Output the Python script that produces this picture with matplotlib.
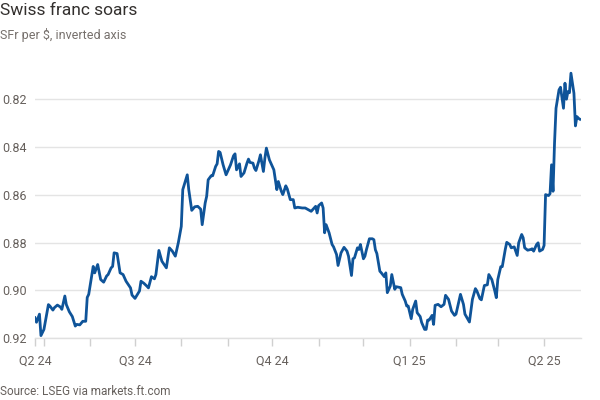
import matplotlib
matplotlib.use("Agg")
import matplotlib.pyplot as plt
import matplotlib.dates as mdates
import pandas as pd

plt.rcParams['font.family'] = ['Roboto', 'DejaVu Sans']

dates = [
    "2024-04-25","2024-04-26","2024-04-28","2024-04-29","2024-05-01","2024-05-04","2024-05-05","2024-05-07",
    "2024-05-08","2024-05-10","2024-05-12","2024-05-13","2024-05-15","2024-05-16","2024-05-18","2024-05-20",
    "2024-05-22","2024-05-23","2024-05-25","2024-05-27","2024-05-29","2024-05-30","2024-05-31","2024-06-03",
    "2024-06-04","2024-06-06","2024-06-08","2024-06-10","2024-06-12","2024-06-13","2024-06-15","2024-06-16",
    "2024-06-17","2024-06-19","2024-06-21","2024-06-23","2024-06-25","2024-06-28","2024-06-29","2024-07-01",
    "2024-07-04","2024-07-05","2024-07-07","2024-07-09","2024-07-10","2024-07-12","2024-07-14","2024-07-15",
    "2024-07-17","2024-07-19","2024-07-22","2024-07-24","2024-07-26","2024-07-28","2024-07-30","2024-08-01",
    "2024-08-02","2024-08-04","2024-08-05","2024-08-06","2024-08-08","2024-08-10","2024-08-12","2024-08-14",
    "2024-08-15","2024-08-17","2024-08-18","2024-08-19","2024-08-21","2024-08-22","2024-08-24","2024-08-25",
    "2024-08-26","2024-08-27","2024-08-29","2024-08-31","2024-09-03","2024-09-05","2024-09-06","2024-09-07",
    "2024-09-09","2024-09-10","2024-09-12","2024-09-14","2024-09-15","2024-09-16","2024-09-18","2024-09-19",
    "2024-09-20","2024-09-22","2024-09-23","2024-09-25","2024-09-26","2024-09-27","2024-09-29","2024-10-02",
    "2024-10-04","2024-10-05","2024-10-07","2024-10-08","2024-10-10","2024-10-11","2024-10-13","2024-10-15",
    "2024-10-16","2024-10-18","2024-10-21","2024-10-23","2024-10-25","2024-10-27","2024-10-30","2024-10-31",
    "2024-11-01","2024-11-03","2024-11-04","2024-11-05","2024-11-06","2024-11-08","2024-11-10","2024-11-11",
    "2024-11-13","2024-11-14","2024-11-16","2024-11-18","2024-11-20","2024-11-21","2024-11-23","2024-11-24",
    "2024-11-25","2024-11-27","2024-11-28","2024-11-29","2024-12-01","2024-12-02","2024-12-03","2024-12-05",
    "2024-12-07","2024-12-08","2024-12-09","2024-12-10","2024-12-12","2024-12-13","2024-12-15","2024-12-16",
    "2024-12-17","2024-12-19","2024-12-20","2024-12-22","2024-12-23","2024-12-26","2024-12-27","2024-12-29",
    "2024-12-30","2024-12-31","2025-01-02","2025-01-03","2025-01-05","2025-01-06","2025-01-08","2025-01-09",
    "2025-01-11","2025-01-12","2025-01-13","2025-01-14","2025-01-16","2025-01-17","2025-01-18","2025-01-20",
    "2025-01-22","2025-01-24","2025-01-25","2025-01-27","2025-01-29","2025-01-31","2025-02-01","2025-02-03",
    "2025-02-04","2025-02-06","2025-02-07","2025-02-09","2025-02-10","2025-02-12","2025-02-14","2025-02-15",
    "2025-02-17","2025-02-18","2025-02-20","2025-02-22","2025-02-23","2025-02-25","2025-02-27","2025-02-28",
    "2025-03-01","2025-03-03","2025-03-04","2025-03-06","2025-03-07","2025-03-09","2025-03-10","2025-03-12",
    "2025-03-14","2025-03-15","2025-03-17","2025-03-18","2025-03-19","2025-03-21","2025-03-23","2025-03-24",
    "2025-03-25","2025-03-27","2025-03-28","2025-03-29","2025-03-31","2025-04-01","2025-04-02","2025-04-04",
    "2025-04-05","2025-04-06","2025-04-07","2025-04-08","2025-04-09","2025-04-11","2025-04-12","2025-04-14",
    "2025-04-15","2025-04-16","2025-04-17","2025-04-18","2025-04-19","2025-04-21","2025-04-22","2025-04-23",
    "2025-04-24","2025-04-25",
]

chf_per_usd = [
    0.9115,0.9134,0.9100,0.9190,0.9164,0.9060,0.9066,0.9083,
    0.9073,0.9062,0.9070,0.9080,0.9024,0.9060,0.9090,0.9110,
    0.9150,0.9143,0.9145,0.9130,0.9130,0.9030,0.9017,0.8900,
    0.8927,0.8892,0.8955,0.8966,0.8940,0.8934,0.8906,0.8900,
    0.8843,0.8846,0.8927,0.8934,0.8962,0.8990,0.9020,0.9034,
    0.9003,0.8962,0.8971,0.8983,0.8990,0.8943,0.8952,0.8934,
    0.8833,0.8878,0.8906,0.8822,0.8836,0.8857,0.8801,0.8732,
    0.8578,0.8537,0.8516,0.8578,0.8665,0.8650,0.8648,0.8660,
    0.8725,0.8634,0.8606,0.8537,0.8520,0.8520,0.8481,0.8470,
    0.8418,0.8422,0.8474,0.8516,0.8474,0.8436,0.8428,0.8495,
    0.8470,0.8523,0.8508,0.8467,0.8450,0.8464,0.8467,0.8488,
    0.8498,0.8457,0.8432,0.8502,0.8446,0.8404,0.8453,0.8495,
    0.8578,0.8544,0.8585,0.8599,0.8562,0.8575,0.8620,0.8620,
    0.8655,0.8652,0.8655,0.8655,0.8662,0.8669,0.8648,0.8676,
    0.8645,0.8634,0.8655,0.8759,0.8725,0.8759,0.8808,0.8818,
    0.8850,0.8896,0.8843,0.8820,0.8836,0.8857,0.8938,0.8868,
    0.8864,0.8822,0.8829,0.8808,0.8868,0.8857,0.8830,0.8784,
    0.8784,0.8788,0.8830,0.8846,0.8920,0.8927,0.8943,0.8927,
    0.9010,0.8982,0.8934,0.8996,0.8985,0.8989,0.9017,0.9045,
    0.9066,0.9066,0.9119,0.9080,0.9045,0.9094,0.9110,0.9135,
    0.9164,0.9164,0.9125,0.9125,0.9105,0.9143,0.9063,0.9059,
    0.9069,0.9059,0.9021,0.9038,0.9087,0.9105,0.9100,0.9045,
    0.9017,0.9059,0.9100,0.9122,0.9133,0.9038,0.8993,0.9003,
    0.9035,0.9040,0.8980,0.8977,0.8934,0.8955,0.9003,0.9031,
    0.8955,0.8901,0.8901,0.8829,0.8799,0.8808,0.8822,0.8818,
    0.8854,0.8801,0.8766,0.8780,0.8822,0.8832,0.8829,0.8826,
    0.8836,0.8808,0.8801,0.8836,0.8829,0.8812,0.8599,0.8603,
    0.8595,0.8474,0.8585,0.8383,0.8237,0.8160,0.8149,0.8237,
    0.8132,0.8199,0.8167,0.8172,0.8090,0.8174,0.8311,0.8272,
    0.8279,0.8283,
]

y_ticks = [0.82, 0.84, 0.86, 0.88, 0.90, 0.92]
y_tick_labels = ["0.82", "0.84", "0.86", "0.88", "0.90", "0.92"]
quarter_dates = ["2024-07-01", "2024-10-01", "2025-01-01", "2025-04-01"]
x_tick_labels = ["Q2 24", "Q3 24", "Q4 24", "Q1 25", "Q2 25"]

title = "Swiss franc soars"
subtitle = "SFr per $, inverted axis"
source = "Source: LSEG via markets.ft.com"

x = pd.to_datetime(dates)

fig = plt.figure(figsize=(6, 4), dpi=100, facecolor="white")
ax = fig.add_axes([0.0583, 0.155, 0.9107, 0.668])
ax.set_facecolor("white")

ax.plot(x, chf_per_usd, color="#0f5499", lw=2.0, solid_joinstyle="round", zorder=3)

ax.set_xlim(x[0], x[-1] + pd.Timedelta(days=1))
ax.set_ylim(0.92, 0.808)

ax.set_yticks(y_ticks)
ax.set_yticklabels(y_tick_labels)
ax.grid(axis="y", color="#e4e4e4", lw=1.0, zorder=0)
ax.tick_params(axis="y", length=0, pad=6, labelsize=9, labelcolor="#66605c")

major = [x[0]] + list(pd.to_datetime(quarter_dates))
ax.set_xticks(major)
ax.set_xticklabels(x_tick_labels)
months = pd.date_range("2024-05-01", "2025-04-01", freq="MS")
minor = [m for m in months if m not in set(pd.to_datetime(quarter_dates))]
ax.set_xticks(minor, minor=True)
ax.tick_params(axis="x", which="both", length=6, width=1, color="#d0d0d0",
               pad=6, labelsize=9, labelcolor="#66605c")

for s in ["left", "right", "top"]:
    ax.spines[s].set_visible(False)
ax.spines["bottom"].set_color("#e0e0e0")
ax.spines["bottom"].set_linewidth(1.0)

fig.text(0.0, 0.992, title, fontsize=12.5, color="#33302e", ha="left", va="top")
fig.text(0.0, 0.93, subtitle, fontsize=9, color="#76706c", ha="left", va="top")
fig.text(0.0, 0.005, source, fontsize=8.5, color="#66605c", ha="left", va="bottom")

fig.savefig("out.png", dpi=100, facecolor="white")
